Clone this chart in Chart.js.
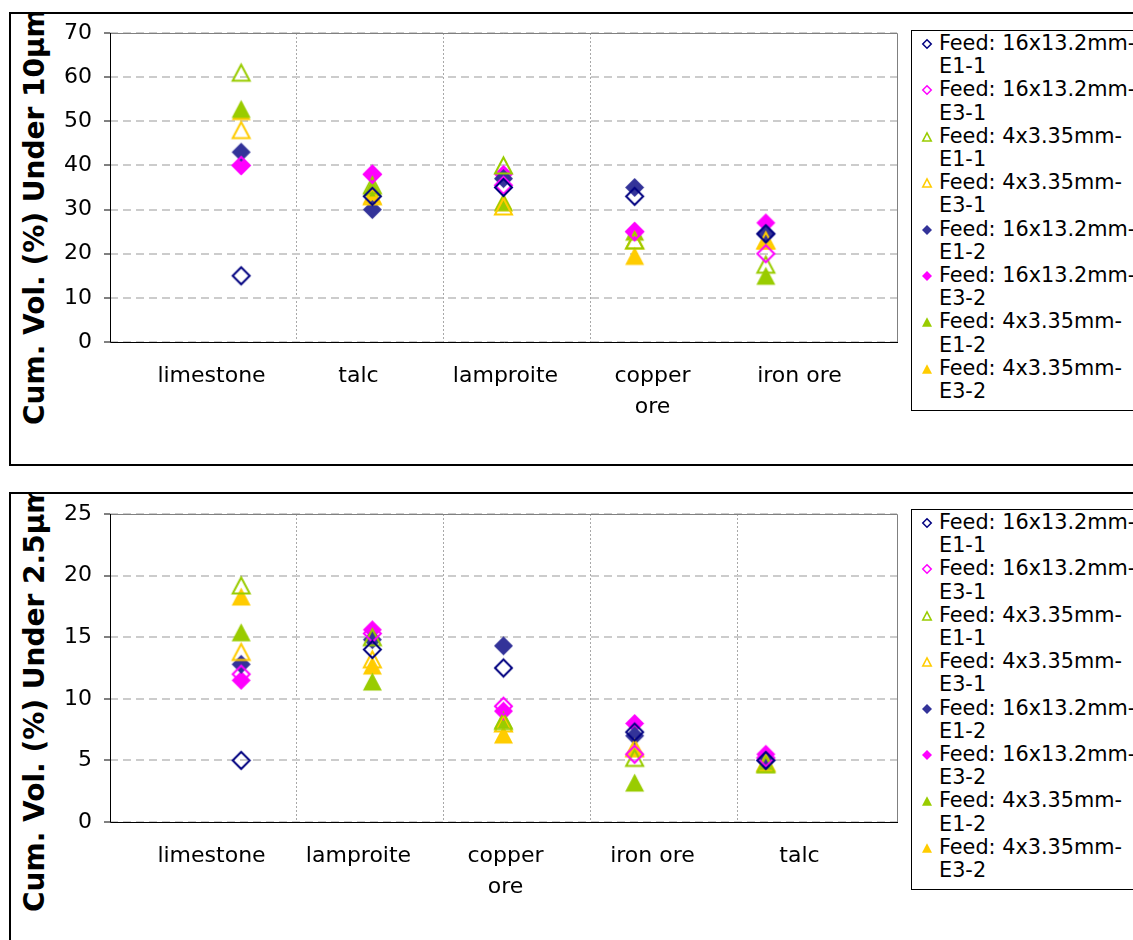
<!DOCTYPE html>
<html>
<head>
<meta charset="utf-8">
<script src="https://cdn.jsdelivr.net/npm/chart.js@4/dist/chart.umd.min.js"></script>
<style>
  html, body { margin: 0; padding: 0; background: #fff; width: 1133px; height: 940px; overflow: hidden;
    font-family: "DejaVu Sans", Verdana, sans-serif; color: #000; }
  .panel { position: absolute; left: 9px; width: 1200px; border: 2px solid #000; box-sizing: border-box; overflow: hidden; }
  #panelTop { top: 12px; height: 454px; }
  #panelBottom { top: 492px; height: 520px; }
  .ytitle { position: absolute; left: 10px; font-weight: bold; font-size: 28px; line-height: 27px;
    white-space: nowrap; transform: rotate(-90deg); transform-origin: 0 0; }
  #titleTop { top: 411px; }
  #titleBottom { top: 418px; }
  .chartbox { position: absolute; left: 40px; width: 880px; height: 440px; }
  #boxTop { top: 15px; }
  #boxBottom { top: 496px; }
  .legend { position: absolute; left: 911px; width: 300px; border: 1px solid #000; background: #fff;
    font-size: 20.8px; line-height: 23.2px; padding: 1px 0 7px 0; }
  #legendTop { top: 30px; }
  #legendBottom { top: 509px; }
  .item { position: relative; padding-left: 27px; white-space: pre; }
  .item canvas { position: absolute; left: 7px; top: 4px; }
</style>
</head>
<body>
<div class="panel" id="panelTop"><div class="ytitle" id="titleTop">Cum. Vol. (%) Under 10µm</div></div>
<div class="panel" id="panelBottom"><div class="ytitle" id="titleBottom">Cum. Vol. (%) Under 2.5µm</div></div>
<div class="chartbox" id="boxTop"><canvas id="chartTop" width="880" height="440"></canvas></div>
<div class="chartbox" id="boxBottom"><canvas id="chartBottom" width="880" height="440"></canvas></div>
<div class="legend" id="legendTop"></div>
<div class="legend" id="legendBottom"></div>

<script>
// ---- data ----
const seriesNames = [
  'Feed: 16x13.2mm-E1-1', 'Feed: 16x13.2mm-E3-1', 'Feed: 4x3.35mm-E1-1', 'Feed: 4x3.35mm-E3-1',
  'Feed: 16x13.2mm-E1-2', 'Feed: 16x13.2mm-E3-2', 'Feed: 4x3.35mm-E1-2', 'Feed: 4x3.35mm-E3-2'
];

// Cumulative volume under 10 µm
const categoriesUnder10 = ['limestone', 'talc', 'lamproite', 'copper ore', 'iron ore'];
const yTicksUnder10 = [0, 10, 20, 30, 40, 50, 60, 70];
const u10_16x13_E1_1 = [15, 33, 35, 33, 24.5];
const u10_16x13_E3_1 = [40, 38, 35.5, 25, 20];
const u10_4x3_E1_1 = [61, 35.5, 40, 23, 17.5];
const u10_4x3_E3_1 = [48, 33, 30.7, 23, 23];
const u10_16x13_E1_2 = [43, 30, 37, 35, 24.5];
const u10_16x13_E3_2 = [40, 38, 38, 25, 27];
const u10_4x3_E1_2 = [52.8, 35, 31.7, 25, 15];
const u10_4x3_E3_2 = [52.3, 33.3, 31.7, 19.5, 23];

// Cumulative volume under 2.5 µm
const categoriesUnder25 = ['limestone', 'lamproite', 'copper ore', 'iron ore', 'talc'];
const yTicksUnder25 = [0, 5, 10, 15, 20, 25];
const u25_16x13_E1_1 = [5, 14, 12.5, 7.3, 5];
const u25_16x13_E3_1 = [12, 15.3, 9.4, 5.5, 5.2];
const u25_4x3_E1_1 = [19.2, 15, 8.2, 5.2, 4.7];
const u25_4x3_E3_1 = [13.8, 13.2, 8, 6, 4.8];
const u25_16x13_E1_2 = [12.8, 14.8, 14.3, 7, 5];
const u25_16x13_E3_2 = [11.5, 15.6, 9, 8, 5.5];
const u25_4x3_E1_2 = [15.4, 11.4, 8.3, 3.2, 4.7];
const u25_4x3_E3_2 = [18.3, 12.7, 7.1, 6, 4.8];

// ---- styles ----
const seriesStyles = [
  { shape: 'diamond', color: '#000080', filled: false },
  { shape: 'diamond', color: '#FF00FF', filled: false },
  { shape: 'triangle', color: '#99CC00', filled: false },
  { shape: 'triangle', color: '#FFCC00', filled: false },
  { shape: 'diamond', color: '#333399', filled: true },
  { shape: 'diamond', color: '#FF00FF', filled: true },
  { shape: 'triangle', color: '#99CC00', filled: true },
  { shape: 'triangle', color: '#FFCC00', filled: true }
];

const FONT = '"DejaVu Sans", Verdana, sans-serif';
Chart.defaults.font.family = FONT;
Chart.defaults.color = '#000';

// Marker sprite: diamond or triangle, outlined or filled, centred on its bounding box
function markerImage(style, size, lineWidth) {
  const pad = 3;
  const c = document.createElement('canvas');
  c.width = c.height = size + pad * 2;
  const g = c.getContext('2d');
  const m = c.width / 2;
  const h = (style.filled ? size : size - lineWidth) / 2;
  g.beginPath();
  if (style.shape === 'diamond') {
    g.moveTo(m, m - h); g.lineTo(m + h, m); g.lineTo(m, m + h); g.lineTo(m - h, m);
  } else {
    const hh = h * 0.95;
    g.moveTo(m, m - hh); g.lineTo(m + h, m + hh); g.lineTo(m - h, m + hh);
  }
  g.closePath();
  if (style.filled) {
    g.fillStyle = style.color; g.fill();
  } else {
    g.lineJoin = 'miter';
    g.lineWidth = lineWidth; g.strokeStyle = style.color; g.stroke();
  }
  return c;
}

// Plot area outline: grey top/right, black axis lines left/bottom
const plotFrame = {
  id: 'plotFrame',
  beforeDatasetsDraw(chart) {
    const { ctx, chartArea: a } = chart;
    ctx.save();
    ctx.lineWidth = 1;
    ctx.strokeStyle = '#808080';
    ctx.beginPath();
    ctx.moveTo(a.left, a.top + 0.5); ctx.lineTo(a.right + 0.5, a.top + 0.5); ctx.lineTo(a.right + 0.5, a.bottom);
    ctx.stroke();
    ctx.strokeStyle = '#000';
    ctx.beginPath();
    ctx.moveTo(a.left + 0.5, a.top); ctx.lineTo(a.left + 0.5, a.bottom + 0.5); ctx.lineTo(a.right + 1, a.bottom + 0.5);
    ctx.stroke();
    ctx.restore();
  }
};

// The category label band is narrower than the plot and sits inset from its left edge
function labelBand(insetLeft, insetRight) {
  return {
    id: 'labelBand',
    afterLayout(chart) {
      const s = chart.scales.xcat, a = chart.chartArea;
      s.left = a.left + insetLeft;
      s.right = a.right - insetRight;
      s.width = s.right - s.left;
      s.configure();
    }
  };
}

function buildLegend(el) {
  seriesNames.forEach((name, i) => {
    const item = document.createElement('div');
    item.className = 'item';
    item.appendChild(markerImage(seriesStyles[i], 10, 1.5));
    item.appendChild(document.createTextNode(name.replace('mm-', 'mm-\n')));
    el.appendChild(item);
  });
}

function makeChart(canvasId, categories, series, yTicks, plotHeight, hiddenDividers) {
  const canvas = document.getElementById(canvasId);
  const padTop = 18;
  const n = categories.length;
  const datasets = series.map((values, i) => ({
    label: seriesNames[i],
    data: values.map((v, j) => ({ x: j + 1, y: v })),
    pointStyle: markerImage(seriesStyles[i], 19, 2),
    pointRadius: 10,
    showLine: false
  }));
  return new Chart(canvas, {
    type: 'scatter',
    data: { datasets },
    plugins: [plotFrame, labelBand(39, 13)],
    options: {
      responsive: false,
      animation: false,
      events: [],
      layout: { padding: { top: padTop, right: 23, left: 0, bottom: 0 } },
      plugins: { legend: { display: false }, tooltip: { enabled: false } },
      scales: {
        x: {
          type: 'linear', min: 0, max: n + 1, display: false,
          grid: { display: false }, ticks: { display: false }
        },
        xcat: {
          type: 'category', axis: 'x', position: 'bottom', labels: categories,
          offset: true,
          afterFit(scale) {
            scale.height = 440 - padTop - plotHeight;
            scale.paddingLeft = 0; scale.paddingRight = 0;
          },
          border: { display: false, dash: [2, 2] },
          grid: {
            offset: true, drawTicks: false, lineWidth: 1,
            color: (ctx) => (ctx.type !== 'tick' || ctx.index === 0 || ctx.index >= n ||
              hiddenDividers.includes(ctx.index)) ? 'rgba(0,0,0,0)' : '#a8a8a8'
          },
          ticks: {
            padding: 19, labelOffset: -11, maxRotation: 0, autoSkip: false,
            font: { size: 22, lineHeight: 1.4 }, color: '#000',
            callback(value) {
              const label = this.getLabelForValue(value);
              return label.length > 9 ? label.split(' ') : label;
            }
          }
        },
        y: {
          type: 'linear', min: yTicks[0], max: yTicks[yTicks.length - 1],
          afterBuildTicks(scale) { scale.ticks = yTicks.map(v => ({ value: v })); },
          afterFit(scale) {
            scale.width = 70;
            scale.paddingTop = 0; scale.paddingBottom = 0;
          },
          border: { display: false, dash: [8, 5] },
          grid: { color: '#cccccc', lineWidth: 2, tickLength: 6, tickColor: '#000', tickWidth: 1 },
          ticks: { padding: 12, font: { size: 22 }, color: '#000' }
        }
      }
    }
  });
}

makeChart('chartTop', categoriesUnder10,
  [u10_16x13_E1_1, u10_16x13_E3_1, u10_4x3_E1_1, u10_4x3_E3_1,
   u10_16x13_E1_2, u10_16x13_E3_2, u10_4x3_E1_2, u10_4x3_E3_2],
  yTicksUnder10, 309, [4]);

makeChart('chartBottom', categoriesUnder25,
  [u25_16x13_E1_1, u25_16x13_E3_1, u25_4x3_E1_1, u25_4x3_E3_1,
   u25_16x13_E1_2, u25_16x13_E3_2, u25_4x3_E1_2, u25_4x3_E3_2],
  yTicksUnder25, 308, []);

buildLegend(document.getElementById('legendTop'));
buildLegend(document.getElementById('legendBottom'));
</script>
</body>
</html>
